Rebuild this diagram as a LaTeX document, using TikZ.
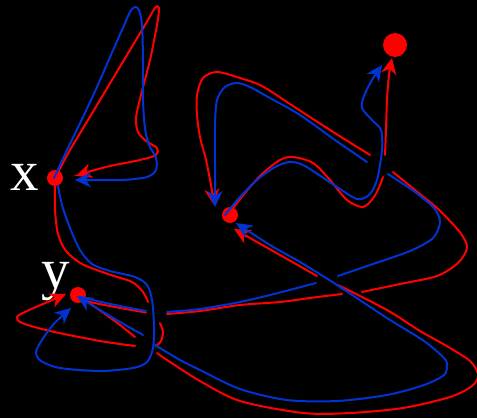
\documentclass[tikz,border=0pt]{standalone}
\usepackage{fontspec}
\setmainfont{Liberation Serif}
\usetikzlibrary{arrows.meta}
\definecolor{bl}{RGB}{0,51,210}
\definecolor{rd}{RGB}{255,0,0}
\tikzset{
  rl/.style={draw=rd, line width=2pt, line cap=round},
  bll/.style={draw=bl, line width=2pt, line cap=round},
  tipr/.style={-{Stealth[length=16pt,width=15pt,inset=5pt]}},
  dotn/.style={circle, fill=rd, inner sep=0pt, minimum size=16pt},
  lab/.style={text=white, font=\fontsize{57}{57}\selectfont, inner sep=0pt, anchor=base}
}
\begin{document}
\begin{tikzpicture}[x=1pt,y=-1pt]
\fill[black] (0,0) rectangle (477,418);
\useasboundingbox (0,0) rectangle (477,418);
% dots
\node[dotn] (X) at (55,178) {};
\node[dotn] (Y) at (78,295) {};
\node[dotn] (Z) at (230,215) {};
\node[dotn, minimum size=24pt] (W) at (395,45) {};
\node[lab] (xl) at (24.5,190) {x};
\node[lab] (yl) at (56,288) {y};
% ---- red curves
% P1 red loop at x
\draw[rl,tipr] plot[smooth,tension=0.5] coordinates {(55,178) (70,150) (88,120) (118,70) (145,25) (155,8) (159,8) (157,25) (150,60) (141,95) (136,118) (138,132) (146,141) (157,148) (156,155) (140,160) (110,166) (88,172) (76,176)};
% P2 red x -> y
\draw[rl] plot[smooth,tension=0.5] coordinates {(55,186) (55,210) (58,234) (66,251) (82,264) (108,274) (132,282) (143,292) (148,302)};
\draw[rl] plot[smooth,tension=0.5] coordinates {(160,323) (163,332) (161,341) (156,346)};
\draw[rl,tipr] plot[smooth,tension=0.5] coordinates {(135,346) (100,341) (50,331) (22,323) (17,317) (27,311) (50,301) (66,294)};
% P3 red y -> right loop -> top loop -> z
\draw[rl] plot[smooth,tension=0.5] coordinates {(85,301) (115,307) (146,312.5)};
\draw[rl] plot[smooth,tension=0.5] coordinates {(167,314) (200,311) (240,305) (280,302) (310,298) (342,294)};
\draw[rl] plot[smooth,tension=0.5] coordinates {(362,292) (400,284) (437,276) (458,263) (467,248) (462,235) (450,221) (437,208) (415,190) (393,172)};
\draw[rl,tipr] plot[smooth,tension=0.5] coordinates {(370,155) (330,130) (290,104) (262,86) (240,78) (217,72) (203,78) (197,95) (197,115) (200,137) (206,160) (211,185) (214,205)};
% P4 red z -> w
\draw[rl] plot[smooth,tension=0.5] coordinates {(230,212) (245,193) (262,174) (280,160) (293,157) (313,163) (330,180) (347,200) (363,207) (374,197) (380,185) (383,177)};
\draw[rl,tipr] plot[smooth,tension=0.5] coordinates {(385,155) (386,130) (387,100) (389,75) (392,58)};
% P5 red y -> bottom loop -> z
\draw[rl] plot[smooth,tension=0.5] coordinates {(85,300) (105,314) (120,325) (135,337)};
\draw[rl] plot[smooth,tension=0.5] coordinates {(157,353) (167,360) (200,381) (240,401) (303,413) (350,413) (403,408) (450,397) (472,386) (478,375) (470,361) (445,345) (420,331) (387,310) (338,285)};
\draw[rl,tipr] plot[smooth,tension=0.5] coordinates {(317,276) (280,255) (250,238) (234,229)};
% ---- blue curves
% P1 blue loop at x
\draw[bll,tipr] plot[smooth,tension=0.5] coordinates {(54,178) (68,148) (83,117) (97,87) (110,57) (122,30) (130,12) (135,7) (139,10) (142,25) (143,60) (143,100) (145,128) (149,145) (156,158) (156,170) (147,177) (123,180) (97,180) (75,180)};
% P2 blue x -> y
\draw[bll,tipr] plot[smooth,tension=0.5] coordinates {(58,186) (62,205) (70,228) (80,250) (92,264) (110,271) (135,277) (147,285) (152,300) (154,325) (153,348) (147,362) (133,368) (100,371) (60,368) (41,361) (36,352) (42,340) (52,326) (62,316) (71,308)};
% P3 blue
\draw[bll] plot[smooth,tension=0.5] coordinates {(80,297) (115,305) (146,311)};
\draw[bll] plot[smooth,tension=0.5] coordinates {(167,312) (200,309) (240,302) (278,293) (316,283)};
\draw[bll] plot[smooth,tension=0.5] coordinates {(338,276) (370,265) (410,251) (433,238) (440,222) (434,208) (415,192) (388,174)};
\draw[bll,tipr] plot[smooth,tension=0.5] coordinates {(367,162) (335,140) (300,115) (270,98) (250,87) (237,83) (225,87) (217,100) (215,125) (215,160) (215,185) (215,207)};
% P4 blue z -> w
\draw[bll,tipr] plot[smooth,tension=0.5] coordinates {(225,215) (240,197) (257,180) (275,167) (290,162) (305,166) (337,187) (357,199) (369,195) (377,180) (382,150) (381,130) (372,120) (362,108) (364,96) (372,80) (382,65)};
% P5 blue
\draw[bll,tipr] plot[smooth,tension=0.5] coordinates {(143,335) (120,322) (100,310) (77,296)};
\draw[bll,tipr] plot[smooth,tension=0.5] coordinates {(155,345) (180,360) (200,370) (240,389) (287,400) (337,401) (387,395) (424,385) (444,375) (447,365) (444,358) (424,341) (387,318) (337,285) (300,262) (270,245) (236,223)};
\end{tikzpicture}
\end{document}
